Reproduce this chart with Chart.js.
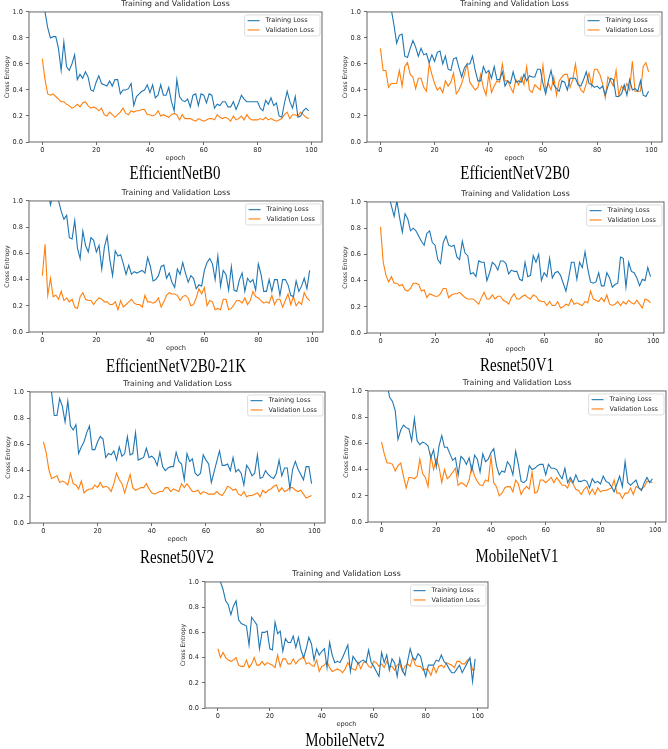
<!DOCTYPE html>
<html>
<head>
<meta charset="utf-8">
<script src="https://cdn.jsdelivr.net/npm/chart.js@4.4.1/dist/chart.umd.min.js"></script>
<style>
  html, body { margin: 0; padding: 0; background: #fff; }
  body { position: relative; width: 668px; height: 749px; overflow: hidden; }
  canvas { position: absolute; }
  .cap {
    position: absolute;
    font-family: "Liberation Serif", "Times New Roman", serif;
    font-size: 18px;
    line-height: 18px;
    color: #000;
    white-space: nowrap;
    transform: translateX(-50%) scaleX(0.83);
  }
</style>
</head>
<body>
<script>
/* ---------- DATA ---------- */
const epochs = Array.from({ length: 100 }, (_, i) => i);
const xTicks = [0, 20, 40, 60, 80, 100];
const yTicks = [0, 0.2, 0.4, 0.6, 0.8, 1.0];
const seriesNames = ['Training Loss', 'Validation Loss'];
const chartTitle = 'Training and Validation Loss';
const modelNames = ['EfficientNetB0', 'EfficientNetV2B0', 'EfficientNetV2B0-21K', 'Resnet50V1', 'Resnet50V2', 'MobileNetV1', 'MobileNetv2'];

const effB0Train = [
  1.10, 1.00, 0.88, 0.80, 0.81, 0.81, 0.72, 0.55, 0.77, 0.58,
  0.55, 0.60, 0.67, 0.48, 0.52, 0.49, 0.54, 0.50, 0.40, 0.39,
  0.46, 0.51, 0.45, 0.44, 0.43, 0.47, 0.43, 0.48, 0.48, 0.37,
  0.40, 0.40, 0.41, 0.45, 0.28, 0.35, 0.37, 0.39, 0.40, 0.44,
  0.38, 0.44, 0.34, 0.36, 0.44, 0.36, 0.36, 0.42, 0.31, 0.24,
  0.48, 0.35, 0.32, 0.31, 0.33, 0.27, 0.36, 0.37, 0.28, 0.37,
  0.36, 0.30, 0.37, 0.36, 0.26, 0.29, 0.28, 0.31, 0.31, 0.27,
  0.27, 0.31, 0.25, 0.30, 0.36, 0.33, 0.31, 0.31, 0.31, 0.31,
  0.31, 0.26, 0.24, 0.32, 0.29, 0.34, 0.28, 0.30, 0.20, 0.19,
  0.30, 0.39, 0.31, 0.26, 0.35, 0.19, 0.20, 0.24, 0.26, 0.24
];
const effB0Val = [
  0.64, 0.48, 0.37, 0.36, 0.37, 0.35, 0.33, 0.31, 0.31, 0.29,
  0.28, 0.26, 0.27, 0.29, 0.27, 0.30, 0.31, 0.28, 0.26, 0.27,
  0.26, 0.24, 0.26, 0.21, 0.20, 0.23, 0.21, 0.19, 0.21, 0.23,
  0.26, 0.22, 0.21, 0.24, 0.23, 0.24, 0.24, 0.25, 0.25, 0.21,
  0.21, 0.20, 0.21, 0.24, 0.20, 0.21, 0.20, 0.19, 0.21, 0.22,
  0.21, 0.17, 0.21, 0.18, 0.18, 0.18, 0.17, 0.16, 0.18, 0.17,
  0.16, 0.17, 0.18, 0.18, 0.17, 0.21, 0.19, 0.18, 0.19, 0.18,
  0.16, 0.20, 0.17, 0.18, 0.20, 0.17, 0.21, 0.18, 0.17, 0.17,
  0.17, 0.18, 0.17, 0.19, 0.17, 0.18, 0.17, 0.16, 0.17, 0.18,
  0.21, 0.23, 0.18, 0.21, 0.21, 0.20, 0.23, 0.21, 0.19, 0.18
];

const effV2Train = [
  1.60, 1.40, 1.25, 1.10, 1.02, 0.90, 0.76, 0.82, 0.83, 0.66,
  0.65, 0.72, 0.78, 0.73, 0.66, 0.72, 0.67, 0.68, 0.61, 0.67,
  0.62, 0.69, 0.70, 0.60, 0.66, 0.56, 0.55, 0.64, 0.65, 0.57,
  0.50, 0.57, 0.60, 0.60, 0.66, 0.55, 0.47, 0.47, 0.58, 0.53,
  0.55, 0.49, 0.58, 0.48, 0.48, 0.54, 0.43, 0.47, 0.45, 0.54,
  0.46, 0.47, 0.46, 0.52, 0.47, 0.51, 0.50, 0.50, 0.56, 0.56,
  0.45, 0.37, 0.47, 0.55, 0.44, 0.41, 0.39, 0.47, 0.46, 0.40,
  0.49, 0.49, 0.49, 0.44, 0.43, 0.48, 0.54, 0.45, 0.44, 0.42,
  0.43, 0.41, 0.43, 0.36, 0.43, 0.49, 0.48, 0.35, 0.35, 0.37,
  0.44, 0.36, 0.48, 0.40, 0.41, 0.39, 0.47, 0.36, 0.35, 0.39
];
const effV2Val = [
  0.72, 0.55, 0.55, 0.42, 0.45, 0.45, 0.45, 0.55, 0.43, 0.58,
  0.61, 0.52, 0.50, 0.41, 0.49, 0.49, 0.42, 0.39, 0.60, 0.52,
  0.45, 0.40, 0.42, 0.38, 0.47, 0.43, 0.46, 0.53, 0.37, 0.40,
  0.45, 0.52, 0.60, 0.46, 0.43, 0.40, 0.42, 0.52, 0.42, 0.36,
  0.52, 0.38, 0.43, 0.47, 0.46, 0.60, 0.47, 0.47, 0.42, 0.38,
  0.48, 0.44, 0.50, 0.44, 0.58, 0.40, 0.38, 0.44, 0.42, 0.40,
  0.59, 0.40, 0.45, 0.40, 0.50, 0.36, 0.47, 0.50, 0.52, 0.52,
  0.42, 0.48, 0.60, 0.45, 0.40, 0.38, 0.45, 0.53, 0.43, 0.56,
  0.56, 0.52, 0.45, 0.34, 0.50, 0.47, 0.43, 0.55, 0.36, 0.43,
  0.40, 0.45, 0.40, 0.62, 0.39, 0.39, 0.39, 0.58, 0.61, 0.54
];

const effV2kTrain = [
  1.30, 1.20, 1.10, 0.97, 1.05, 1.05, 1.00, 0.92, 0.86, 0.89,
  0.72, 0.71, 0.85, 0.64, 0.56, 0.77, 0.66, 0.61, 0.72, 0.70,
  0.61, 0.66, 0.48, 0.65, 0.73, 0.55, 0.43, 0.62, 0.58, 0.59,
  0.52, 0.44, 0.51, 0.44, 0.46, 0.45, 0.46, 0.47, 0.45, 0.57,
  0.50, 0.39, 0.40, 0.43, 0.50, 0.51, 0.41, 0.45, 0.38, 0.34,
  0.48, 0.44, 0.53, 0.45, 0.38, 0.43, 0.41, 0.33, 0.36, 0.35,
  0.47, 0.53, 0.56, 0.52, 0.40, 0.58, 0.35, 0.47, 0.44, 0.32,
  0.50, 0.32, 0.31, 0.40, 0.45, 0.31, 0.41, 0.38, 0.40, 0.32,
  0.52, 0.44, 0.31, 0.31, 0.40, 0.31, 0.40, 0.40, 0.28, 0.40,
  0.40, 0.36, 0.28, 0.27, 0.39, 0.31, 0.35, 0.41, 0.33, 0.47
];
const effV2kVal = [
  0.43, 0.67, 0.28, 0.41, 0.27, 0.28, 0.25, 0.31, 0.24, 0.26,
  0.23, 0.25, 0.19, 0.18, 0.27, 0.30, 0.25, 0.24, 0.24, 0.21,
  0.24, 0.26, 0.25, 0.23, 0.23, 0.21, 0.21, 0.23, 0.17, 0.24,
  0.19, 0.21, 0.23, 0.25, 0.22, 0.21, 0.21, 0.19, 0.28, 0.23,
  0.23, 0.22, 0.23, 0.26, 0.19, 0.23, 0.28, 0.30, 0.29, 0.29,
  0.28, 0.24, 0.27, 0.28, 0.26, 0.20, 0.21, 0.26, 0.33, 0.29,
  0.34, 0.20, 0.24, 0.23, 0.17, 0.18, 0.17, 0.25, 0.25, 0.17,
  0.18, 0.21, 0.24, 0.24, 0.22, 0.26, 0.21, 0.24, 0.31, 0.27,
  0.26, 0.24, 0.22, 0.23, 0.22, 0.28, 0.21, 0.25, 0.25, 0.19,
  0.24, 0.29, 0.21, 0.27, 0.20, 0.23, 0.21, 0.30, 0.26, 0.24
];

const res50v1Train = [
  1.40, 1.30, 1.15, 1.05, 0.97, 0.89, 1.01, 0.88, 0.77, 0.91,
  0.87, 0.78, 0.80, 0.78, 0.74, 0.70, 0.67, 0.76, 0.78, 0.69,
  0.67, 0.56, 0.53, 0.69, 0.74, 0.67, 0.66, 0.67, 0.58, 0.56,
  0.70, 0.61, 0.59, 0.45, 0.46, 0.43, 0.55, 0.54, 0.54, 0.40,
  0.46, 0.54, 0.52, 0.48, 0.55, 0.55, 0.53, 0.45, 0.48, 0.47,
  0.47, 0.41, 0.40, 0.54, 0.43, 0.44, 0.59, 0.54, 0.60, 0.40,
  0.46, 0.43, 0.57, 0.42, 0.46, 0.47, 0.44, 0.38, 0.32, 0.42,
  0.54, 0.54, 0.41, 0.54, 0.50, 0.62, 0.49, 0.39, 0.38, 0.39,
  0.46, 0.36, 0.36, 0.46, 0.42, 0.35, 0.37, 0.38, 0.58, 0.57,
  0.35, 0.54, 0.47, 0.46, 0.42, 0.36, 0.41, 0.40, 0.50, 0.43
];
const res50v1Val = [
  0.81, 0.54, 0.44, 0.39, 0.43, 0.38, 0.38, 0.36, 0.37, 0.33,
  0.32, 0.34, 0.38, 0.38, 0.37, 0.32, 0.33, 0.27, 0.30, 0.29,
  0.28, 0.28, 0.30, 0.34, 0.34, 0.27, 0.29, 0.30, 0.30, 0.31,
  0.29, 0.27, 0.26, 0.26, 0.26, 0.24, 0.22, 0.27, 0.31, 0.26,
  0.26, 0.29, 0.26, 0.28, 0.28, 0.25, 0.24, 0.22, 0.27, 0.30,
  0.26, 0.26, 0.28, 0.29, 0.27, 0.26, 0.29, 0.28, 0.25, 0.24,
  0.24, 0.21, 0.24, 0.21, 0.21, 0.24, 0.19, 0.20, 0.22, 0.21,
  0.26, 0.22, 0.23, 0.22, 0.21, 0.24, 0.23, 0.32, 0.26, 0.25,
  0.24, 0.27, 0.24, 0.29, 0.22, 0.21, 0.22, 0.24, 0.21, 0.24,
  0.22, 0.25, 0.23, 0.22, 0.25, 0.22, 0.19, 0.26, 0.25, 0.23
];

const res50v2Train = [
  1.40, 1.25, 1.10, 1.00, 0.82, 0.82, 0.95, 0.89, 0.77, 0.93,
  0.74, 0.71, 0.75, 0.53, 0.58, 0.62, 0.69, 0.74, 0.56, 0.56,
  0.62, 0.66, 0.64, 0.50, 0.53, 0.52, 0.55, 0.48, 0.58, 0.51,
  0.53, 0.66, 0.52, 0.53, 0.69, 0.48, 0.49, 0.50, 0.57, 0.50,
  0.51, 0.49, 0.44, 0.54, 0.43, 0.40, 0.42, 0.43, 0.43, 0.54,
  0.47, 0.45, 0.33, 0.53, 0.47, 0.49, 0.38, 0.36, 0.38, 0.52,
  0.48, 0.45, 0.31, 0.39, 0.47, 0.55, 0.44, 0.44, 0.45, 0.40,
  0.50, 0.39, 0.41, 0.38, 0.29, 0.44, 0.41, 0.36, 0.38, 0.52,
  0.34, 0.35, 0.40, 0.37, 0.35, 0.34, 0.38, 0.48, 0.36, 0.42,
  0.42, 0.26, 0.41, 0.47, 0.41, 0.37, 0.33, 0.43, 0.43, 0.30
];
const res50v2Val = [
  0.62, 0.54, 0.41, 0.34, 0.35, 0.36, 0.31, 0.32, 0.31, 0.29,
  0.38, 0.30, 0.29, 0.26, 0.32, 0.23, 0.25, 0.26, 0.26, 0.29,
  0.27, 0.31, 0.27, 0.28, 0.27, 0.24, 0.30, 0.38, 0.33, 0.30,
  0.23, 0.30, 0.37, 0.27, 0.25, 0.26, 0.27, 0.27, 0.30, 0.26,
  0.23, 0.22, 0.23, 0.24, 0.24, 0.27, 0.27, 0.24, 0.26, 0.25,
  0.24, 0.30, 0.27, 0.30, 0.27, 0.24, 0.24, 0.25, 0.22, 0.24,
  0.23, 0.22, 0.22, 0.22, 0.24, 0.22, 0.21, 0.24, 0.28, 0.27,
  0.25, 0.26, 0.22, 0.21, 0.24, 0.20, 0.21, 0.21, 0.22, 0.23,
  0.20, 0.25, 0.23, 0.25, 0.26, 0.28, 0.29, 0.24, 0.27, 0.24,
  0.25, 0.27, 0.27, 0.25, 0.24, 0.25, 0.22, 0.19, 0.20, 0.21
];

const mobV1Train = [
  1.30, 1.15, 1.05, 0.95, 0.92, 0.85, 0.63, 0.70, 0.74, 0.72,
  0.71, 0.62, 0.79, 0.62, 0.59, 0.61, 0.60, 0.58, 0.49, 0.55,
  0.42, 0.58, 0.66, 0.57, 0.57, 0.52, 0.47, 0.49, 0.36, 0.50,
  0.48, 0.44, 0.49, 0.39, 0.51, 0.48, 0.38, 0.52, 0.46, 0.48,
  0.53, 0.56, 0.43, 0.36, 0.39, 0.38, 0.46, 0.43, 0.36, 0.54,
  0.44, 0.31, 0.30, 0.32, 0.43, 0.40, 0.41, 0.43, 0.44, 0.44,
  0.36, 0.44, 0.41, 0.41, 0.40, 0.36, 0.33, 0.41, 0.30, 0.34,
  0.30, 0.36, 0.31, 0.31, 0.32, 0.31, 0.26, 0.33, 0.30, 0.31,
  0.29, 0.35, 0.31, 0.30, 0.27, 0.23, 0.29, 0.35, 0.27, 0.46,
  0.30, 0.28, 0.30, 0.32, 0.26, 0.24, 0.30, 0.34, 0.30, 0.33
];
const mobV1Val = [
  0.61, 0.52, 0.45, 0.45, 0.44, 0.39, 0.43, 0.45, 0.35, 0.26,
  0.34, 0.34, 0.33, 0.35, 0.48, 0.37, 0.34, 0.27, 0.51, 0.40,
  0.48, 0.42, 0.30, 0.40, 0.33, 0.35, 0.38, 0.41, 0.28, 0.30,
  0.29, 0.27, 0.32, 0.43, 0.35, 0.31, 0.28, 0.28, 0.32, 0.31,
  0.50, 0.30, 0.27, 0.20, 0.22, 0.26, 0.27, 0.27, 0.23, 0.32,
  0.29, 0.21, 0.25, 0.27, 0.25, 0.38, 0.22, 0.23, 0.32, 0.32,
  0.30, 0.32, 0.34, 0.30, 0.34, 0.31, 0.28, 0.28, 0.26, 0.32,
  0.29, 0.25, 0.24, 0.21, 0.25, 0.27, 0.21, 0.25, 0.21, 0.26,
  0.23, 0.24, 0.24, 0.25, 0.26, 0.32, 0.22, 0.22, 0.18, 0.22,
  0.22, 0.26, 0.21, 0.27, 0.26, 0.25, 0.27, 0.31, 0.31, 0.30
];

const mobV2Train = [
  1.10, 1.00, 0.94, 0.85, 0.82, 0.74, 0.81, 0.85, 0.70, 0.67,
  0.66, 0.65, 0.50, 0.72, 0.69, 0.66, 0.47, 0.60, 0.60, 0.61,
  0.47, 0.46, 0.68, 0.59, 0.61, 0.45, 0.55, 0.52, 0.52, 0.57,
  0.48, 0.56, 0.46, 0.40, 0.47, 0.56, 0.51, 0.38, 0.47, 0.42,
  0.45, 0.47, 0.32, 0.52, 0.42, 0.36, 0.37, 0.36, 0.40, 0.45,
  0.50, 0.29, 0.41, 0.38, 0.35, 0.37, 0.38, 0.36, 0.46, 0.36,
  0.33, 0.29, 0.25, 0.44, 0.36, 0.42, 0.30, 0.39, 0.36, 0.25,
  0.39, 0.30, 0.26, 0.37, 0.47, 0.40, 0.38, 0.43, 0.41, 0.32,
  0.25, 0.34, 0.34, 0.34, 0.38, 0.37, 0.42, 0.37, 0.35, 0.31,
  0.28, 0.28, 0.31, 0.34, 0.28, 0.32, 0.36, 0.40, 0.21, 0.39
];
const mobV2Val = [
  0.47, 0.40, 0.44, 0.40, 0.38, 0.37, 0.38, 0.40, 0.34, 0.33,
  0.33, 0.38, 0.32, 0.35, 0.40, 0.34, 0.34, 0.37, 0.34, 0.36,
  0.35, 0.34, 0.32, 0.42, 0.33, 0.39, 0.39, 0.35, 0.35, 0.39,
  0.35, 0.38, 0.39, 0.41, 0.35, 0.36, 0.34, 0.33, 0.38, 0.29,
  0.33, 0.34, 0.37, 0.32, 0.29, 0.30, 0.31, 0.30, 0.28, 0.31,
  0.36, 0.32, 0.31, 0.30, 0.36, 0.31, 0.36, 0.37, 0.33, 0.32,
  0.37, 0.36, 0.33, 0.35, 0.32, 0.37, 0.33, 0.33, 0.30, 0.34,
  0.35, 0.29, 0.33, 0.35, 0.33, 0.40, 0.34, 0.33, 0.33, 0.30,
  0.31, 0.30, 0.26, 0.33, 0.28, 0.33, 0.34, 0.32, 0.36, 0.35,
  0.34, 0.32, 0.37, 0.37, 0.35, 0.35, 0.38, 0.39, 0.30, 0.31
];

/* ---------- LAYOUT (plot box [left, top, width, height], caption centre) ---------- */
const panels = [
  { train: effB0Train,    val: effB0Val,    plot: [29, 12, 293, 130],  cap: [175, 173] },
  { train: effV2Train,    val: effV2Val,    plot: [367, 12, 295, 130], cap: [515, 173] },
  { train: effV2kTrain,   val: effV2kVal,   plot: [29, 201, 294, 131], cap: [176, 366] },
  { train: res50v1Train,  val: res50v1Val,  plot: [367, 202, 297, 131], cap: [517, 365] },
  { train: res50v2Train,  val: res50v2Val,  plot: [30, 392, 295, 131], cap: [177, 557] },
  { train: mobV1Train,    val: mobV1Val,    plot: [368, 391, 298, 131], cap: [517, 556] },
  { train: mobV2Train,    val: mobV2Val,    plot: [205, 582, 283, 126], cap: [345, 740] }
];

const INK = '#2b2b2b';
const smallFont = { family: 'DejaVu Sans', size: 6.6 };

/* frame around the plot area, like matplotlib spines */
const framePlugin = {
  id: 'frame',
  afterDatasetsDraw(chart) {
    const { ctx, chartArea: a } = chart;
    ctx.save();
    ctx.strokeStyle = '#555';
    ctx.lineWidth = 0.9;
    ctx.strokeRect(a.left, a.top, a.right - a.left, a.bottom - a.top);
    ctx.restore();
  }
};

/* legend drawn inside the plot, upper right */
const insideLegend = {
  id: 'insideLegend',
  afterDraw(chart) {
    const { ctx, chartArea: a } = chart;
    const sets = chart.data.datasets;
    ctx.save();
    ctx.font = '6.5px "DejaVu Sans"';
    const tw = Math.max(...sets.map(d => ctx.measureText(d.label).width));
    const w = tw + 27, h = 21;
    const x = a.right - 2 - w, y = a.top + 3;
    ctx.fillStyle = 'rgba(255,255,255,0.85)';
    ctx.strokeStyle = '#d6d6d6';
    ctx.lineWidth = 0.8;
    ctx.beginPath();
    ctx.roundRect(x, y, w, h, 2);
    ctx.fill();
    ctx.stroke();
    sets.forEach((d, i) => {
      const ly = y + 5.7 + i * 9.3;
      ctx.strokeStyle = d.borderColor;
      ctx.lineWidth = 1.1;
      ctx.beginPath();
      ctx.moveTo(x + 3, ly);
      ctx.lineTo(x + 15, ly);
      ctx.stroke();
      ctx.fillStyle = INK;
      ctx.textBaseline = 'middle';
      ctx.fillText(d.label, x + 21, ly);
    });
    ctx.restore();
  }
};

function makePanel(p, name) {
  const [px, py, pw, ph] = p.plot;
  const W = pw + 36, H = ph + 16 + 22;
  const cv = document.createElement('canvas');
  cv.width = W; cv.height = H;
  cv.style.left = (px - 30) + 'px';
  cv.style.top = (py - 16) + 'px';
  cv.style.width = W + 'px';
  cv.style.height = H + 'px';
  document.body.appendChild(cv);

  new Chart(cv, {
    type: 'line',
    data: {
      datasets: [
        { label: seriesNames[0], data: epochs.map((e, i) => ({ x: e, y: p.train[i] })), borderColor: '#1f77b4', borderWidth: 1.1, pointRadius: 0, tension: 0, fill: false },
        { label: seriesNames[1], data: epochs.map((e, i) => ({ x: e, y: p.val[i] })), borderColor: '#ff7f0e', borderWidth: 1.1, pointRadius: 0, tension: 0, fill: false }
      ]
    },
    options: {
      responsive: false,
      animation: false,
      events: [],
      layout: { padding: { left: 0, right: 6, top: 0, bottom: 0 } },
      plugins: {
        legend: { display: false },
        tooltip: { enabled: false },
        title: {
          display: true, text: chartTitle, fullSize: false, color: INK,
          font: { family: 'DejaVu Sans', size: 7.8, weight: 'normal' },
          padding: { top: 3.5, bottom: 3.1 }
        }
      },
      scales: {
        x: {
          type: 'linear', min: -4.95, max: 103.95,
          afterBuildTicks: s => { s.ticks = xTicks.map(v => ({ value: v })); },
          afterFit: s => { s.height = 22; },
          ticks: { font: smallFont, color: INK, padding: 1.5, maxRotation: 0, autoSkip: false },
          grid: { drawOnChartArea: false, drawTicks: true, tickLength: 3, color: '#444', lineWidth: 0.8 },
          border: { display: false },
          title: { display: true, text: 'epoch', color: INK, font: smallFont, padding: { top: 0, bottom: 2 } }
        },
        y: {
          min: 0, max: 1,
          afterBuildTicks: s => { s.ticks = yTicks.map(v => ({ value: v })); },
          afterFit: s => { s.width = 30; },
          ticks: { font: smallFont, color: INK, padding: 3, callback: v => v.toFixed(1) },
          grid: { drawOnChartArea: false, drawTicks: true, tickLength: 3, color: '#444', lineWidth: 0.8 },
          border: { display: false },
          title: { display: true, text: 'Cross Entropy', color: INK, font: { family: 'DejaVu Sans', size: 6.1 }, padding: { top: 4.5, bottom: 0 } }
        }
      }
    },
    plugins: [framePlugin, insideLegend]
  });

  const cap = document.createElement('div');
  cap.className = 'cap';
  cap.textContent = name;
  cap.style.left = p.cap[0] + 'px';
  cap.style.top = (p.cap[1] - 9) + 'px';
  document.body.appendChild(cap);
}

panels.forEach((p, i) => makePanel(p, modelNames[i]));
</script>
</body>
</html>
